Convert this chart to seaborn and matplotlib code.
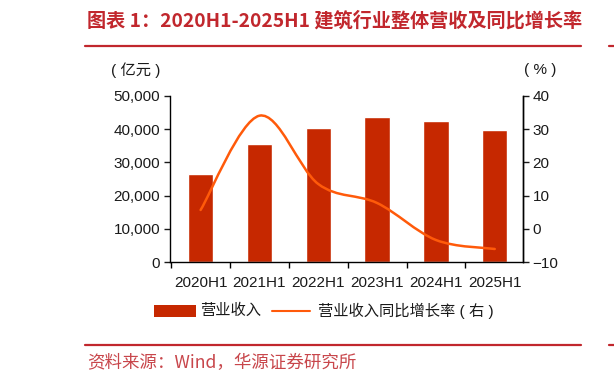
import numpy as np
import matplotlib
matplotlib.use("Agg")
import matplotlib.pyplot as plt
import seaborn as sns
from matplotlib.path import Path
from matplotlib.patches import PathPatch, Rectangle
from matplotlib.lines import Line2D
from matplotlib.ticker import FuncFormatter, FixedLocator

# data
periods = ["2020H1", "2021H1", "2022H1", "2023H1", "2024H1", "2025H1"]
revenue = [26400, 35600, 40300, 43600, 42300, 39700]   # 亿元
growth = [5.7, 34.0, 13.5, 7.8, -3.3, -6.0]            # %

bar_color = "#C62800"
line_color = "#FF5A0A"
brand_red = "#C1272D"

sns.set_theme(style="ticks")
plt.rcParams["font.family"] = ["Liberation Sans", "Noto Sans CJK SC"]
plt.rcParams["axes.unicode_minus"] = True

W, H = 614, 383
fig = plt.figure(figsize=(W / 100, H / 100), dpi=100)


def fx(px):
    return px / W


def fy(py):
    return 1 - py / H


ax = fig.add_axes([fx(170), fy(262.3), fx(523) - fx(170), fy(95.7) - fy(262.3)])
sns.barplot(x=periods, y=revenue, color=bar_color, saturation=1, width=0.43, ax=ax)
ax.set_xlim(-0.52, 5.48)
ax.set_ylim(0, 50000)
ax.set_yticks(range(0, 50001, 10000))
ax.yaxis.set_major_formatter(FuncFormatter(lambda v, p: f"{int(v):,}"))
ax.set_xlabel("")
ax.set_ylabel("")
ax.xaxis.set_minor_locator(FixedLocator(np.arange(-0.5, 6, 1)))
ax.tick_params(axis="x", which="major", length=0, pad=10, labelsize=11, colors="#1a1a1a")
ax.tick_params(axis="x", which="minor", length=4, width=1, direction="out", color="black")
ax.tick_params(axis="y", length=4, width=1, direction="out", pad=3, labelsize=11,
               colors="#1a1a1a")
ax.spines["top"].set_visible(False)
for s in ["left", "bottom", "right"]:
    ax.spines[s].set_color("black")
    ax.spines[s].set_linewidth(1)

# growth rate on right axis, smooth curve through the points
ax2 = ax.twinx()
ax2.set_ylim(-10, 40)
ax2.set_yticks(range(-10, 41, 10))
ax2.tick_params(axis="y", length=4, width=1, direction="out", pad=3, labelsize=11,
                colors="#1a1a1a")
ax2.spines["top"].set_visible(False)
ax2.spines["left"].set_visible(False)
ax2.spines["bottom"].set_visible(False)
ax2.spines["right"].set_color("black")
ax2.spines["right"].set_linewidth(1)
ax2.grid(False)

pts = np.column_stack([np.arange(len(growth)), growth]).astype(float)
verts = [pts[0]]
codes = [Path.MOVETO]
n = len(pts)
for i in range(n - 1):
    p_prev = pts[max(i - 1, 0)]
    p0, p1 = pts[i], pts[i + 1]
    p_next = pts[min(i + 2, n - 1)]
    c1 = p0 + (p1 - p_prev) / 6
    c2 = p1 - (p_next - p0) / 6
    verts += [c1, c2, p1]
    codes += [Path.CURVE4] * 3
ax2.add_patch(PathPatch(Path(verts, codes), facecolor="none", edgecolor=line_color,
                        lw=1.8, capstyle="round"))

# unit labels
fig.text(fx(136), fy(70), "( 亿元 )", ha="center", va="center", fontsize=11, color="#1a1a1a")
fig.text(fx(540), fy(70), "( % )", ha="center", va="center", fontsize=11, color="#1a1a1a")

# legend drawn by hand
fig.add_artist(Rectangle((fx(154), fy(317)), fx(196) - fx(154), fy(305) - fy(317),
                         transform=fig.transFigure, color=bar_color, lw=0))
fig.text(fx(200), fy(311), "营业收入", ha="left", va="center", fontsize=11, color="#1a1a1a")
fig.add_artist(Line2D([fx(272), fx(310)], [fy(311), fy(311)], transform=fig.transFigure,
                      color=line_color, lw=1.5))
fig.text(fx(318), fy(311), "营业收入同比增长率 ( 右 )", ha="left", va="center", fontsize=11,
         color="#1a1a1a")

# title, source and the red rules
fig.text(fx(87), fy(21), "图表 1：2020H1-2025H1 建筑行业整体营收及同比增长率", ha="left",
         va="center", fontsize=13.8, fontweight="bold", color=brand_red,
         family=["Noto Sans CJK SC"])
fig.text(fx(87), fy(363), "资料来源：Wind，华源证券研究所", ha="left", va="center",
         fontsize=12.6, color="#C8464B", family=["Noto Sans CJK SC"])
for yy in (46, 345):
    fig.add_artist(Line2D([fx(85), fx(581)], [fy(yy), fy(yy)], transform=fig.transFigure,
                          color=brand_red, lw=1.6))
    fig.add_artist(Line2D([fx(609), fx(614)], [fy(yy), fy(yy)], transform=fig.transFigure,
                          color=brand_red, lw=1.6))

fig.savefig("out.png", dpi=100)
